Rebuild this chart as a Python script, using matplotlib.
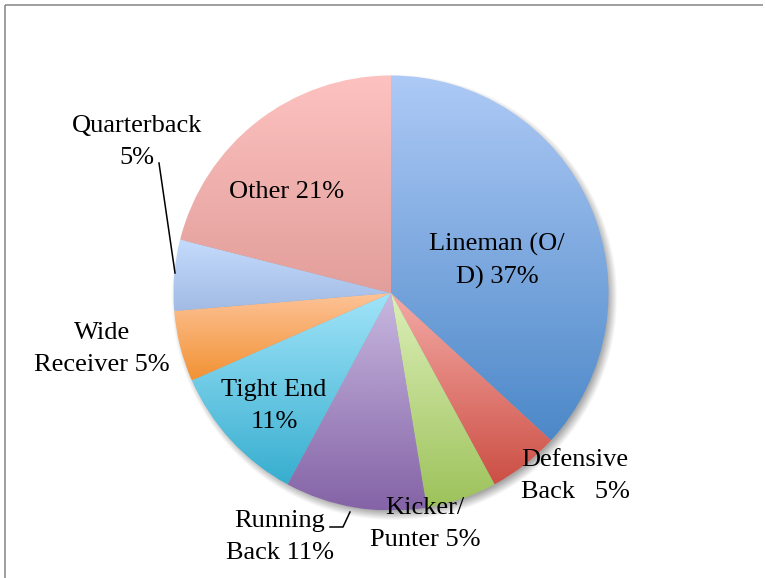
import numpy as np
import matplotlib
matplotlib.use("Agg")
import matplotlib.pyplot as plt
from matplotlib.colors import to_rgba

# ── Daten ────────────────────────────────────────────────────────────────────
positions = ["Lineman (O/D)", "Defensive Back", "Kicker/Punter", "Running Back",
             "Tight End", "Wide Receiver", "Quarterback", "Other"]
counts = [7, 1, 1, 2, 2, 1, 1, 4]
label_texts = ["Lineman (O/\nD) 37%", "Defensive\nBack   5%", "Kicker/\nPunter 5%",
               "Running\nBack 11%", "Tight End\n11%", "Wide\nReceiver 5%",
               "Quarterback\n5%", "Other 21%"]
# Verlauf oben -> unten je Segment
top_colors = ["#aecaf6", "#f4aaa6", "#dcefb8", "#c8b8e0", "#a1e4f9", "#fdc398", "#c4dbfc", "#fdc2c0"]
bot_colors = ["#4c88c8", "#cc4f44", "#9dc25a", "#8463a6", "#37aecf", "#f29234", "#a2bbe4", "#e29e9a"]

# ── Layout (Pixelkoordinaten, y nach oben) ───────────────────────────────────
W, H = 765, 578
cx, cy, rad = 391, 285, 217.5
label_pos = [(497, 317), (575, 102), (425, 54), (280, 41),
             (274, 172), (102, 229), (137, 436), (287, 386)]

plt.rcParams["font.family"] = ["Liberation Serif", "DejaVu Serif"]
fig = plt.figure(figsize=(W / 100, H / 100), dpi=100)
ax = fig.add_axes([0, 0, 1, 1])

# Schatten (nur um die Torte herum)
sx0, sx1, sy0, sy1 = cx - rad - 30, cx + rad + 30, cy - rad - 30, cy + rad + 30
xx, yy = np.meshgrid(np.linspace(sx0, sx1, 400), np.linspace(sy0, sy1, 400))
d = np.hypot(xx - (cx + 4), yy - (cy - 5))
shadow = np.zeros((400, 400, 4))
shadow[..., 3] = np.clip((rad + 6 - d) / 10, 0, 1) * 0.35
ax.imshow(shadow, extent=[sx0, sx1, sy0, sy1], origin="lower", zorder=0, interpolation="bilinear")

wedges, _ = ax.pie(counts, center=(cx, cy), radius=rad, startangle=90, counterclock=False,
                   colors=["none"] * len(counts), wedgeprops=dict(linewidth=0))

for w, c1, c2 in zip(wedges, top_colors, bot_colors):
    ext = w.get_path().get_extents()
    t = np.linspace(0, 1, 256)[:, None]
    a, b = np.array(to_rgba(c1)), np.array(to_rgba(c2))
    grad = (a[None, :] * (1 - t) + b[None, :] * t)[:, None, :]
    im = ax.imshow(grad, extent=[ext.x0, ext.x1, ext.y0, ext.y1], origin="upper",
                   aspect="auto", interpolation="bilinear", zorder=2)
    im.set_clip_path(w)

ax.set_xlim(0, W); ax.set_ylim(0, H)
ax.set_aspect("equal")
ax.axis("off")

for txt, (x, y) in zip(label_texts, label_pos):
    ax.text(x, y, txt, ha="center", va="center", multialignment="center",
            fontsize=19, color="black", linespacing=1.55, zorder=5)

# Führungslinien
ax.plot([159, 175], [415, 305], color="black", lw=1.1, zorder=4)
ax.plot([330, 343, 350], [51, 51, 66], color="black", lw=1.1, zorder=4)

# Rahmen (nur links und oben sichtbar)
ax.plot([5, 5], [0, 573], color="#8e8e8e", lw=1.2, zorder=6, solid_capstyle="butt")
ax.plot([5, W - 2], [573, 573], color="#8e8e8e", lw=1.2, zorder=6, solid_capstyle="butt")

fig.savefig("out.png", dpi=100)
